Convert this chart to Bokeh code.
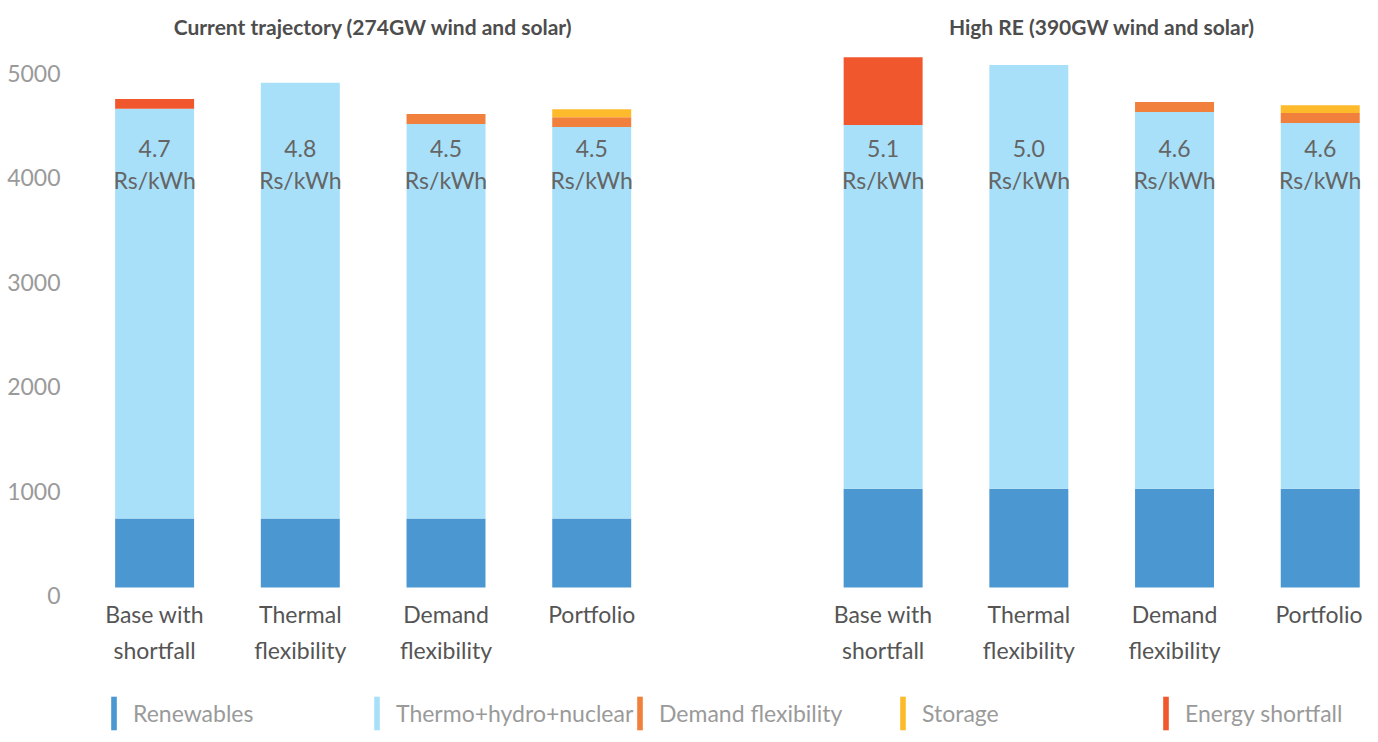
from bokeh.plotting import figure
from bokeh.models import ColumnDataSource, Legend, LegendItem, FixedTicker, Range1d, LinearAxis
from bokeh.core.properties import value
from bokeh.embed import file_html
from bokeh.resources import INLINE

# ---- data ----
categories = ["Base with\nshortfall", "Thermal\nflexibility", "Demand\nflexibility", "Portfolio"]
groups = ["Current trajectory (274GW wind and solar)", "High RE (390GW wind and solar)"]
series = ["Renewables", "Thermo+hydro+nuclear", "Demand flexibility", "Storage", "Energy shortfall"]
colors = ["#4B97D2", "#A8E0F9", "#F0803C", "#FDBB2B", "#F0572D"]

renew_cur = [660, 660, 660, 660]
thermo_cur = [3925, 4175, 3780, 3750]
dflex_cur = [0, 0, 95, 95]
storage_cur = [0, 0, 0, 75]
short_cur = [95, 0, 0, 0]
cost_cur = ["4.7", "4.8", "4.5", "4.5"]

renew_hi = [945, 945, 945, 945]
thermo_hi = [3485, 4060, 3610, 3505]
dflex_hi = [0, 0, 95, 95]
storage_hi = [0, 0, 0, 75]
short_hi = [650, 0, 0, 0]
cost_hi = ["5.1", "5.0", "4.6", "4.6"]

unit_label = "Rs/kWh"
y_ticks = [0, 1000, 2000, 3000, 4000, 5000]

# ---- layout helpers ----
n = len(categories)
x_cur = list(range(n))
x_hi = [i + n + 1 for i in range(n)]
xs = x_cur + x_hi

src = ColumnDataSource(dict(
    x=xs,
    **{series[0]: renew_cur + renew_hi,
       series[1]: thermo_cur + thermo_hi,
       series[2]: dflex_cur + dflex_hi,
       series[3]: storage_cur + storage_hi,
       series[4]: short_cur + short_hi},
    cost=cost_cur + cost_hi,
    unit=[unit_label] * (2 * n),
))

FONT = "Lato"
Y0, Y1 = -1408, 5527
LAB_SHIFT = 77  # tick labels sit slightly below their value, as in the original

p = figure(width=1362, height=734, output_backend="svg", toolbar_location=None,
           x_range=Range1d(-0.591, 8.29), y_range=Range1d(Y0, Y1),
           min_border_left=68, min_border_right=0, min_border_top=10, min_border_bottom=0,
           outline_line_color=None, y_axis_location=None)
p.extra_y_ranges = {"lab": Range1d(Y0 + LAB_SHIFT, Y1 + LAB_SHIFT)}
p.xgrid.visible = False
p.ygrid.visible = False

rends = p.vbar_stack(series, x="x", width=0.542, source=src, color=colors, line_color=None)

# cost labels
p.text(x="x", y=4205, text="cost", source=src, text_align="center", text_baseline="middle",
       text_font=value(FONT), text_font_size="23px", text_color="#656565")
p.text(x="x", y=3908, text="unit", source=src, text_align="center", text_baseline="middle",
       text_font=value(FONT), text_font_size="23px", text_color="#656565")

# group titles
tsrc = ColumnDataSource(dict(x=[(n - 1) / 2, n + 1 + (n - 1) / 2], t=groups))
p.text(x="x", y=5370, text="t", source=tsrc, text_align="center", text_baseline="middle",
       text_font=value(FONT), text_font_size="21px", text_color="#4d4d4d", text_font_style="bold")

# x axis, pinned at zero
xa = p.xaxis[0]
xa.fixed_location = 0
xa.ticker = FixedTicker(ticks=xs)
xa.major_label_overrides = {x: c for x, c in zip(xs, categories + categories)}
xa.axis_line_color = None
xa.major_tick_line_color = None
xa.major_tick_out = 0
xa.minor_tick_line_color = None
xa.major_label_standoff = 12
xa.major_label_text_font = FONT
xa.major_label_text_font_size = "23px"
xa.major_label_text_color = "#555555"
xa.major_label_text_line_height = 1.3

ya = LinearAxis(y_range_name="lab", ticker=FixedTicker(ticks=y_ticks))
ya.axis_line_color = None
ya.major_tick_line_color = None
ya.major_tick_out = 0
ya.minor_tick_line_color = None
ya.major_label_standoff = 8
ya.major_label_text_font = FONT
ya.major_label_text_font_size = "23px"
ya.major_label_text_color = "#9a9a9a"
p.add_layout(ya, "left")

legend = Legend(items=[LegendItem(label=s, renderers=[r]) for s, r in zip(series, rends)],
                orientation="horizontal", glyph_width=7, glyph_height=42, label_width=240,
                label_standoff=16, spacing=0, padding=0, margin=0, location=(42, 0),
                border_line_color=None, background_fill_alpha=0,
                label_text_font=FONT, label_text_font_size="23px", label_text_color="#9a9a9a",
                label_text_baseline="top")
p.add_layout(legend)

open("out.html", "w").write(file_html(p, INLINE))
